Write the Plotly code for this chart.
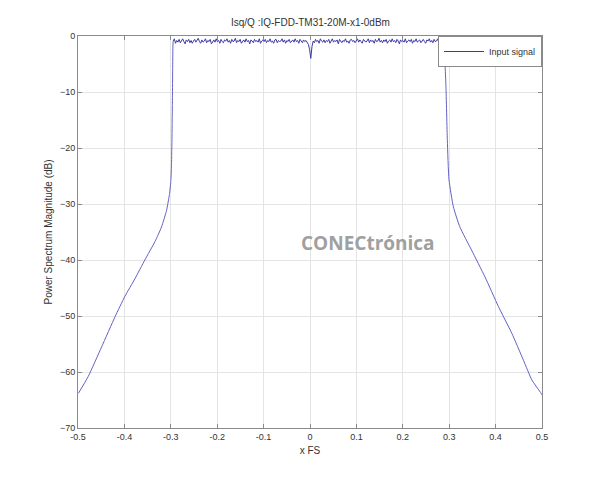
import numpy as np
import plotly.graph_objects as go

# chart data
TITLE = "Isq/Q :IQ-FDD-TM31-20M-x1-0dBm"

left_x = [-0.499, -0.478, -0.449, -0.420, -0.399, -0.377, -0.356, -0.334, -0.320,
          -0.309, -0.303, -0.300, -0.2985, -0.2975, -0.2965, -0.296, -0.2955, -0.295]
left_db = [-63.8, -60.8, -55.5, -50.1, -46.5, -43.3, -40.0, -36.7, -34.1,
           -31.1, -28.3, -26.0, -23.0, -18.0, -11.0, -6.0, -2.0, -1.0]

flat_start, flat_end = -0.295, 0.288
flat_db = [
    -1.0, -0.5, -1.3, -0.8, -1.1, -0.6, -1.2, -0.9, -0.5, -1.0,
    -1.4, -0.7, -1.0, -0.6, -1.2, -0.8, -1.3, -0.9, -0.6, -1.1,
    -0.8, -0.4, -1.0, -1.3, -0.7, -1.1, -0.9, -0.5, -1.2, -0.8,
    -1.0, -0.6, -1.4, -0.9, -0.7, -1.1, -0.5, -1.0, -0.8, -1.3,
    -0.6, -1.0, -1.2, -0.7, -0.9, -0.5, -1.1, -0.8, -1.3, -0.6,
    -1.0, -0.9, -0.4, -1.2, -0.8, -1.0, -0.6, -1.3, -0.9, -0.7,
    -1.1, -0.5, -1.0, -0.8, -1.4, -0.7, -0.9, -1.2, -0.6, -1.0,
    -0.8, -1.1, -0.5, -1.3, -0.9, -0.7, -1.0, -0.6, -1.2, -0.8,
    -1.0, -0.5, -1.1, -0.9, -1.3, -0.7, -0.6, -1.2, -0.8, -1.0,
    -0.9, -0.5, -1.1, -0.7, -1.3, -0.8, -1.0, -0.6, -1.2, -0.9,
    -0.7, -1.1, -0.5, -1.0, -0.8, -1.3, -0.6, -0.9, -1.2, -0.7,
    -1.0, -0.8, -1.1, -1.5, -2.4, -4.0, -1.9, -0.9, -1.2, -0.6,
    -1.0, -0.8, -1.3, -0.5, -0.9, -1.1, -0.7, -1.2, -0.8, -1.0,
    -0.6, -1.3, -0.9, -0.5, -1.1, -0.8, -1.0, -0.7, -1.4, -0.6,
    -0.9, -1.2, -0.8, -1.0, -0.5, -1.1, -0.9, -1.3, -0.7, -0.6,
    -1.0, -0.8, -1.2, -0.9, -0.5, -1.1, -0.7, -1.0, -1.3, -0.6,
    -0.8, -1.1, -0.9, -0.5, -1.2, -0.7, -1.0, -0.8, -1.3, -0.6,
    -1.0, -0.9, -0.4, -1.1, -0.8, -1.2, -0.7, -1.0, -0.6, -1.3,
    -0.9, -0.7, -1.1, -0.5, -1.0, -0.8, -1.2, -0.6, -0.9, -1.4,
    -0.7, -1.0, -0.8, -1.1, -0.5, -1.2, -0.9, -0.7, -1.0, -0.6,
    -1.3, -0.8, -1.0, -0.5, -1.1, -0.9, -0.7, -1.2, -0.8, -0.6,
    -1.0, -1.3, -0.7, -0.9, -0.5, -1.1, -0.8, -1.2, -0.6, -1.0,
    -0.9, -0.5, -1.2, -0.8, -1.0, -0.7, -1.1,
]

right_x = [0.288, 0.2895, 0.291, 0.293, 0.296, 0.2996, 0.309, 0.323, 0.348,
           0.377, 0.406, 0.435, 0.460, 0.478, 0.498, 0.5]
right_db = [-1.1, -2.0, -5.0, -9.0, -18.6, -25.7, -30.5, -34.1, -38.2,
            -43.0, -48.3, -53.1, -57.9, -61.4, -63.8, -64.1]

x_ticks = [-0.5, -0.4, -0.3, -0.2, -0.1, 0, 0.1, 0.2, 0.3, 0.4, 0.5]
x_labels = ["-0.5", "-0.4", "-0.3", "-0.2", "-0.1", "0", "0.1", "0.2", "0.3", "0.4", "0.5"]
y_ticks = [0, -10, -20, -30, -40, -50, -60, -70]

LINE = dict(color="#6262c4", width=1)
FONT = "Liberation Sans, Arial"

flat_x = np.linspace(flat_start, flat_end, len(flat_db))

fig = go.Figure()
fig.add_trace(go.Scatter(x=flat_x, y=flat_db, mode="lines", name="Input signal",
                         legendgroup="sig", line=dict(color="#3a3aa6", width=1)))
fig.add_trace(go.Scatter(x=left_x, y=left_db, mode="lines", name="Input signal",
                         legendgroup="sig", showlegend=False,
                         line=dict(shape="spline", smoothing=0.5, **LINE)))
fig.add_trace(go.Scatter(x=right_x, y=right_db, mode="lines", name="Input signal",
                         legendgroup="sig", showlegend=False,
                         line=dict(shape="spline", smoothing=0.5, **LINE)))

axis_common = dict(showline=True, linecolor="#8a8a8a", linewidth=1, mirror="ticks",
                   ticks="inside", ticklen=4, tickcolor="#8a8a8a", automargin=False,
                   showgrid=True, gridcolor="#e4e4e4", gridwidth=1, zeroline=False,
                   tickfont=dict(family=FONT, size=9, color="#333"))

fig.update_xaxes(range=[-0.5, 0.5], tickvals=x_ticks, ticktext=x_labels,
                 title=dict(text="x FS", standoff=6,
                            font=dict(family=FONT, size=10, color="#333")),
                 **axis_common)
fig.update_yaxes(range=[-70, 0], tickvals=y_ticks,
                 title=dict(text="Power Spectrum Magnitude (dB)", standoff=5,
                            font=dict(family=FONT, size=10, color="#333")),
                 **axis_common)

fig.add_annotation(text="<b>CONECtrónica</b>", x=0.125, y=-37, xref="x", yref="y",
                   showarrow=False,
                   font=dict(family="Open Sans, DejaVu Sans", size=19, color="#a0a0a0"))
fig.add_annotation(text=TITLE, x=0.5, y=1.0, xref="paper", yref="paper",
                   yanchor="bottom", yshift=6, showarrow=False,
                   font=dict(family=FONT, size=10, color="#333"))

# the page adds an 8px body margin, so the figure is a bit smaller than the window
fig.update_layout(
    width=592, height=473,
    margin=dict(l=70, r=58, t=28, b=53, autoexpand=False),
    paper_bgcolor="white", plot_bgcolor="white",
    showlegend=True,
    legend=dict(x=1, y=1, xanchor="right", yanchor="top",
                bgcolor="white", bordercolor="#8a8a8a", borderwidth=1,
                font=dict(family=FONT, size=9, color="#333"),
                itemwidth=40, tracegroupgap=0),
)

fig.write_html("out.html")
